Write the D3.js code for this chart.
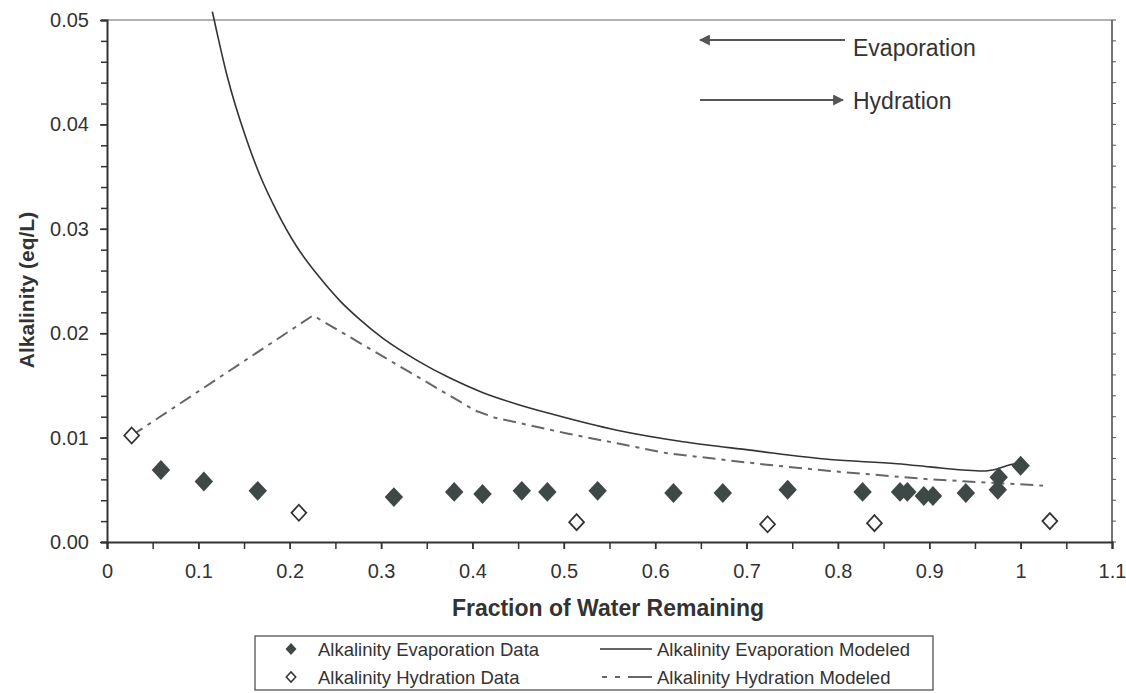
<!DOCTYPE html>
<html><head><meta charset="utf-8">
<script src="https://cdn.jsdelivr.net/npm/d3@7"></script>
<style>
body{margin:0;background:#fff;}
text{font-family:"Liberation Sans",Arial,sans-serif;fill:#333;}
</style>
</head><body>
<svg id="c" width="1126" height="693"></svg>
<script>
// ---------- data ----------
const evapDataX = [0.059,0.106,0.165,0.314,0.380,0.411,0.454,0.482,0.537,0.620,0.674,0.745,0.827,0.868,0.876,0.894,0.904,0.940,0.975,0.976,1.000];
const evapDataY = [0.0069,0.0058,0.0049,0.0043,0.0048,0.0046,0.0049,0.0048,0.0049,0.0047,0.0047,0.0050,0.0048,0.0048,0.0048,0.0044,0.0044,0.0047,0.0050,0.0062,0.0073];
const hydrDataX = [0.027,0.210,0.514,0.723,0.840,1.032];
const hydrDataY = [0.0102,0.0028,0.0019,0.0017,0.0018,0.0020];
const evapModelX = [0.1153,0.1201,0.1310,0.1529,0.1675,0.1857,0.2076,0.2331,0.2550,0.2769,0.3021,0.3393,0.3754,0.4116,0.4488,0.4849,0.5582,0.6305,0.7038,0.7914,0.8647,0.9008,0.9370,0.9588,0.9742,0.9884,1.0001];
const evapModelY = [0.0508,0.0489,0.0448,0.0385,0.0351,0.0317,0.0283,0.0253,0.0231,0.0213,0.0195,0.0174,0.0157,0.0143,0.0132,0.0123,0.0107,0.0096,0.0088,0.0079,0.0075,0.0072,0.0069,0.0068,0.0070,0.0074,0.0076];
const hydrModelX = [0.027,0.2255,0.4028,0.4247,0.5035,0.613,0.7224,0.7914,0.9008,1.0245];
const hydrModelY = [0.0102,0.0217,0.0126,0.0119,0.0104,0.0085,0.0074,0.0068,0.0060,0.0054];
const xTickValues = [0,0.1,0.2,0.3,0.4,0.5,0.6,0.7,0.8,0.9,1.0,1.1];
const yTickValues = [0,0.01,0.02,0.03,0.04,0.05];
const xTitle = "Fraction of Water Remaining";
const yTitle = "Alkalinity (eq/L)";
const legendLabels = ["Alkalinity Evaporation Data","Alkalinity Hydration Data","Alkalinity Evaporation Modeled","Alkalinity Hydration Modeled"];
const annotations = ["Evaporation","Hydration"];

// ---------- layout ----------
const svg = d3.select("#c");
const L = 107, R = 1112, T = 20, B = 542;
const x = d3.scaleLinear().domain([0,1.1]).range([L,R]);
const y = d3.scaleLinear().domain([0,0.05]).range([B,T]);
const dark = "#333", markFill = "#3e4846";

const diamond = {draw(ctx,size){const r=Math.sqrt(size/2);ctx.moveTo(0,-r*1.08);ctx.lineTo(r,0);ctx.lineTo(0,r*1.08);ctx.lineTo(-r,0);ctx.closePath();}};

// frame top & right
svg.append("line").attr("x1",L).attr("x2",R).attr("y1",T).attr("y2",T).attr("stroke","#999").attr("stroke-width",1.5);
svg.append("line").attr("x1",R).attr("x2",R).attr("y1",T).attr("y2",B).attr("stroke","#444").attr("stroke-width",1.5);
const rightMinor = d3.range(0,0.0501,0.002);
svg.append("g").selectAll("line").data(rightMinor).join("line")
  .attr("x1",R).attr("x2",R+4).attr("y1",d=>y(d)).attr("y2",d=>y(d)).attr("stroke","#555").attr("stroke-width",1);

// x axis
const xMinor = d3.range(0,1.1001,0.05);
svg.append("g").attr("transform",`translate(0,${B})`)
  .call(d3.axisBottom(x).tickValues(xMinor).tickSize(7).tickFormat(""))
  .call(g=>g.select(".domain").attr("stroke",dark).attr("stroke-width",2))
  .call(g=>g.selectAll(".tick line").attr("stroke",dark).attr("stroke-width",1.5));
svg.append("g").attr("transform",`translate(0,${B})`)
  .call(d3.axisBottom(x).tickValues(xTickValues).tickSize(7).tickPadding(15).tickFormat(d=>String(+d.toFixed(2))))
  .call(g=>g.select(".domain").remove())
  .call(g=>g.selectAll(".tick line").attr("stroke",dark).attr("stroke-width",1.5))
  .call(g=>g.selectAll("text").attr("font-size",20).attr("fill","#333").attr("font-family","Liberation Sans, Arial, sans-serif"));

// y axis
const yMinor = d3.range(0,0.0501,0.002);
svg.append("g").attr("transform",`translate(${L},0)`)
  .call(d3.axisLeft(y).tickValues(yMinor).tickSize(6).tickFormat(""))
  .call(g=>g.select(".domain").attr("stroke",dark).attr("stroke-width",2))
  .call(g=>g.selectAll(".tick line").attr("stroke",dark).attr("stroke-width",1.5));
svg.append("g").attr("transform",`translate(${L},0)`)
  .call(d3.axisLeft(y).tickValues(yTickValues).tickSize(7).tickPadding(11).tickFormat(d3.format(".2f")))
  .call(g=>g.select(".domain").remove())
  .call(g=>g.selectAll(".tick line").attr("stroke",dark).attr("stroke-width",1.5))
  .call(g=>g.selectAll("text").attr("font-size",20).attr("fill","#333").attr("font-family","Liberation Sans, Arial, sans-serif"));

// titles
svg.append("text").attr("x",608).attr("y",616).attr("text-anchor","middle")
  .attr("font-size",23).attr("font-weight","bold").text(xTitle);
svg.append("text").attr("transform","translate(26,290) rotate(-90)").attr("text-anchor","middle")
  .attr("dominant-baseline","central").attr("font-size",21).attr("font-weight","bold").text(yTitle);

// model lines
const evapModel = evapModelX.map((v,i)=>[v,evapModelY[i]]);
const hydrModel = hydrModelX.map((v,i)=>[v,hydrModelY[i]]);
svg.append("path").datum(evapModel)
  .attr("d",d3.line().x(d=>x(d[0])).y(d=>y(d[1])).curve(d3.curveMonotoneX))
  .attr("fill","none").attr("stroke","#333").attr("stroke-width",1.6);
svg.append("path").datum(hydrModel)
  .attr("d",d3.line().x(d=>x(d[0])).y(d=>y(d[1])))
  .attr("fill","none").attr("stroke","#666").attr("stroke-width",2).attr("stroke-dasharray","13,6,4,6");

// data points
const evapData = evapDataX.map((v,i)=>[v,evapDataY[i]]);
const hydrData = hydrDataX.map((v,i)=>[v,hydrDataY[i]]);
svg.append("g").selectAll("path").data(evapData).join("path")
  .attr("transform",d=>`translate(${x(d[0])},${y(d[1])})`)
  .attr("d",d3.symbol(diamond,170)).attr("fill",markFill);
svg.append("g").selectAll("path").data(hydrData).join("path")
  .attr("transform",d=>`translate(${x(d[0])},${y(d[1])})`)
  .attr("d",d3.symbol(diamond,110)).attr("fill","#fff").attr("stroke","#333").attr("stroke-width",1.8);

// annotation arrows
const defs = svg.append("defs");
defs.append("marker").attr("id","ah").attr("viewBox","0 0 10 10").attr("refX",9).attr("refY",5)
  .attr("markerWidth",11).attr("markerHeight",11).attr("markerUnits","userSpaceOnUse").attr("orient","auto")
  .append("path").attr("d","M0,0 L10,5 L0,10 Z").attr("fill","#555");
svg.append("line").attr("x1",845).attr("x2",700).attr("y1",40).attr("y2",40)
  .attr("stroke","#555").attr("stroke-width",2).attr("marker-end","url(#ah)");
svg.append("line").attr("x1",700).attr("x2",843).attr("y1",100).attr("y2",100)
  .attr("stroke","#555").attr("stroke-width",2).attr("marker-end","url(#ah)");
svg.append("text").attr("x",853).attr("y",56).attr("font-size",23).text(annotations[0]);
svg.append("text").attr("x",853).attr("y",109).attr("font-size",23).text(annotations[1]);

// legend
const lg = svg.append("g");
lg.append("rect").attr("x",255).attr("y",636).attr("width",678).attr("height",54)
  .attr("fill","#fff").attr("stroke","#444").attr("stroke-width",1.2);
const row1 = 649, row2 = 677;
lg.append("path").attr("transform",`translate(291,${row1})`).attr("d",d3.symbol(diamond,60)).attr("fill",markFill);
lg.append("path").attr("transform",`translate(291,${row2})`).attr("d",d3.symbol(diamond,45)).attr("fill","#fff").attr("stroke","#333").attr("stroke-width",1.5);
lg.append("line").attr("x1",600).attr("x2",652).attr("y1",row1).attr("y2",row1).attr("stroke","#333").attr("stroke-width",1.5);
lg.append("line").attr("x1",602).attr("x2",652).attr("y1",row2).attr("y2",row2).attr("stroke","#666").attr("stroke-width",2).attr("stroke-dasharray","5,8,5,8,24,50");
[[318,row1,0],[318,row2,1],[657,row1,2],[657,row2,3]].forEach(([tx,ty,i])=>{
  lg.append("text").attr("x",tx).attr("y",ty).attr("dominant-baseline","central").attr("font-size",18.5).text(legendLabels[i]);
});
</script>
</body></html>
